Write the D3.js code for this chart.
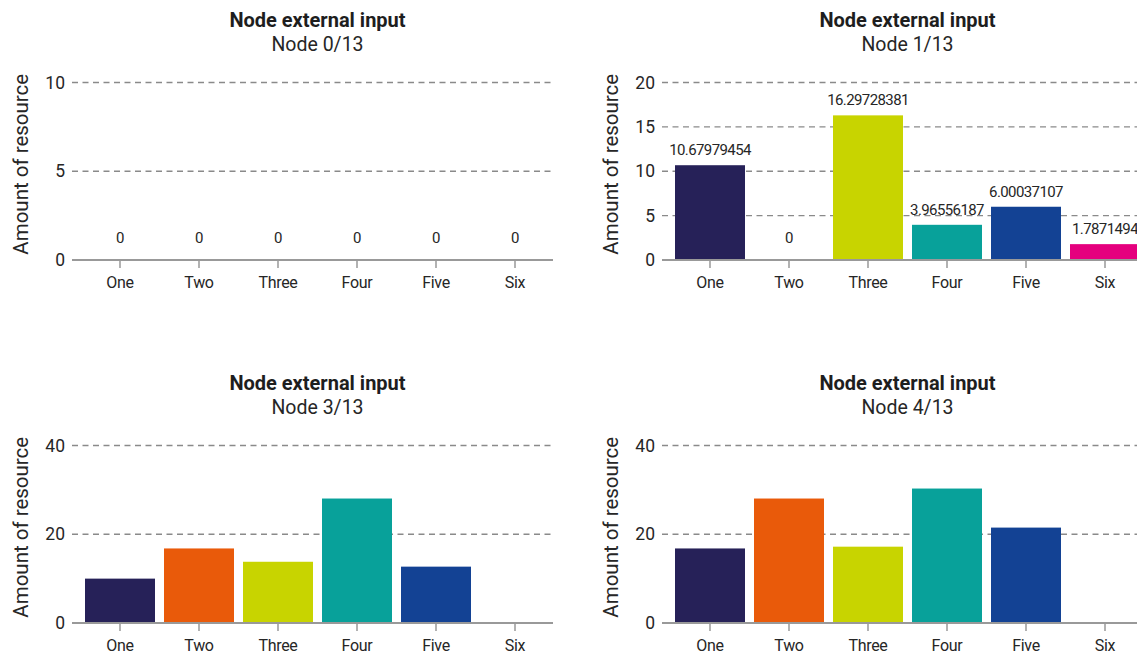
<!DOCTYPE html>
<html>
<head>
<meta charset="utf-8">
<script src="https://cdn.jsdelivr.net/npm/d3@7"></script>
<style>
  html, body { margin: 0; padding: 0; background: #fff; }
  svg { display: block; font-family: Roboto, "Noto Sans", sans-serif; }
</style>
</head>
<body>
<svg id="chart" width="1137" height="655"></svg>
<script>
// Categories shared by every panel
const categories = ["One", "Two", "Three", "Four", "Five", "Six"];
const categoryColors = ["#262158", "#e95a0a", "#c8d400", "#08a19a", "#134294", "#e5007e"];

// External input per node
const node0Values = [0, 0, 0, 0, 0, 0];
const node1Values = [10.67979454, 0, 16.29728381, 3.96556187, 6.00037107, 1.7871494];
const node3Values = [10.0, 16.8, 13.8, 28.05, 12.7, 0];
const node4Values = [16.8, 28.05, 17.2, 30.3, 21.5, 0];

// Panel subtitles, value-axis maxima and tick values
const subtitles = ["Node 0/13", "Node 1/13", "Node 3/13", "Node 4/13"];
const yMaxima = [10, 20, 40, 40];
const yTicks = [[0, 5, 10], [0, 5, 10, 15, 20], [0, 20, 40], [0, 20, 40]];
const showValueLabels = [true, true, false, false];

const title = "Node external input";
const yLabel = "Amount of resource";

const panels = [
  { values: node0Values, col: 0, row: 0 },
  { values: node1Values, col: 1, row: 0 },
  { values: node3Values, col: 0, row: 1 },
  { values: node4Values, col: 1, row: 1 }
];

const svg = d3.select("#chart");
const colStep = 590, rowStep = 363;
const plotLeft = 72, plotRight = 553;
const plotTop = 82.5, plotBottom = 260;
const textColor = "#262626";

panels.forEach((p, i) => {
  const g = svg.append("g")
    .attr("transform", `translate(${p.col * colStep},${p.row * rowStep})`);

  const x = d3.scaleBand().domain(categories).range([85, 550])
    .paddingInner(0.114).paddingOuter(0);
  const y = d3.scaleLinear().domain([0, yMaxima[i]]).range([plotBottom, plotTop]);

  // Titles
  const cx = (plotLeft + plotRight) / 2 + 5;
  g.append("text").attr("x", cx).attr("y", 27)
    .attr("text-anchor", "middle").attr("font-size", 20).attr("font-weight", 700)
    .attr("fill", "#1e1e1e").text(title);
  g.append("text").attr("x", cx).attr("y", 50.5)
    .attr("text-anchor", "middle").attr("font-size", 19.5)
    .attr("fill", textColor).text(subtitles[i]);

  // Dashed gridlines (above zero)
  g.append("g").selectAll("line")
    .data(yTicks[i].filter(t => t !== 0))
    .join("line")
    .attr("x1", plotLeft).attr("x2", plotRight)
    .attr("y1", d => y(d)).attr("y2", d => y(d))
    .attr("stroke", "#8a8a8a").attr("stroke-width", 1.4)
    .attr("stroke-dasharray", "6,4.5");

  // Value axis labels
  const yAxis = g.append("g").attr("transform", `translate(${plotLeft - 7},0)`)
    .call(d3.axisLeft(y).tickValues(yTicks[i]).tickSize(0).tickPadding(0));
  yAxis.select(".domain").remove();
  yAxis.selectAll("text").attr("font-size", 17.5).attr("fill", textColor)
    .attr("font-family", "Roboto, 'Noto Sans', sans-serif");

  // Bars
  g.append("g").selectAll("rect")
    .data(p.values)
    .join("rect")
    .attr("x", (d, k) => x(categories[k]))
    .attr("width", x.bandwidth())
    .attr("y", d => y(d))
    .attr("height", d => y(0) - y(d))
    .attr("fill", (d, k) => categoryColors[k]);

  // Value labels
  if (showValueLabels[i]) {
    g.append("g").selectAll("text")
      .data(p.values)
      .join("text")
      .attr("x", (d, k) => x(categories[k]) + x.bandwidth() / 2)
      .attr("y", d => Math.min(y(d) - 10, y(0) - 17))
      .attr("text-anchor", "middle")
      .attr("font-size", 15).attr("letter-spacing", -0.6)
      .attr("fill", textColor)
      .text(d => String(d));
  }

  // Category axis with baseline across the plot
  g.append("line")
    .attr("x1", plotLeft).attr("x2", plotRight)
    .attr("y1", y(0)).attr("y2", y(0))
    .attr("stroke", "#999").attr("stroke-width", 2);
  const xAxis = g.append("g").attr("transform", `translate(0,${y(0)})`)
    .call(d3.axisBottom(x).tickSize(8).tickPadding(9));
  xAxis.select(".domain").remove();
  xAxis.selectAll(".tick line").attr("stroke", "#999").attr("stroke-width", 1.5);
  xAxis.selectAll("text").attr("font-size", 16).attr("fill", textColor)
    .attr("letter-spacing", -0.3)
    .attr("font-family", "Roboto, 'Noto Sans', sans-serif");

  // Value axis title
  g.append("text")
    .attr("transform", `translate(21,${(plotTop + plotBottom) / 2 - 7}) rotate(-90)`)
    .attr("text-anchor", "middle").attr("dy", "0.35em")
    .attr("font-size", 20.5).attr("fill", textColor)
    .text(yLabel);
});
</script>
</body>
</html>
